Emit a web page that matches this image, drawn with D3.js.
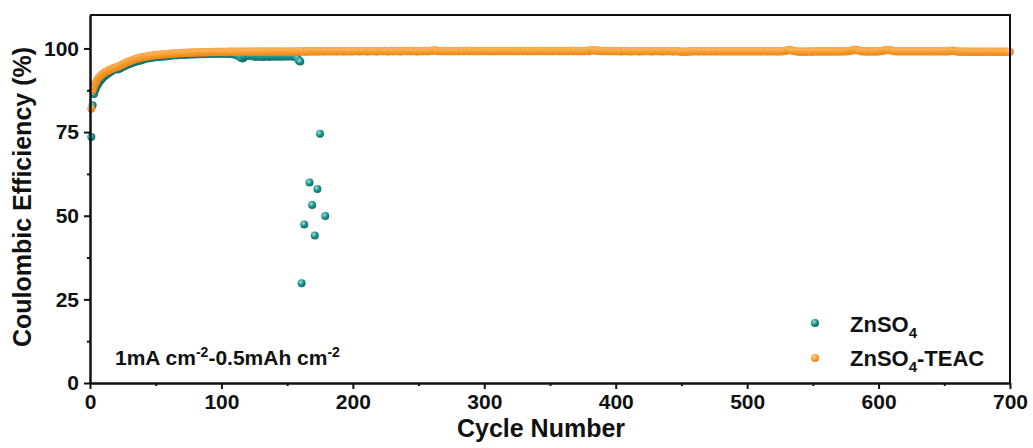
<!DOCTYPE html>
<html>
<head>
<meta charset="utf-8">
<script src="https://cdn.jsdelivr.net/npm/d3@7"></script>
<style>
  body { margin: 0; background: #fff; }
  text { font-family: "Liberation Sans", Arial, sans-serif; font-weight: bold; fill: #111; }
</style>
</head>
<body>
<div id="chart"></div>
<script>
// ZnSO4 coulombic efficiency, cycles 1..160 (index + 1)
const znso4 = [
  73.5,83.0,86.4,87.6,88.5,89.3,89.9,90.4,90.9,91.3,91.7,92.0,92.3,92.6,92.9,93.1,93.4,93.6,93.8,94.0,
  93.7,93.9,94.1,94.3,94.5,94.7,94.9,95.1,95.2,95.4,95.5,95.7,95.8,96.0,96.1,96.2,96.3,96.4,96.5,96.6,
  96.9,96.9,97.0,97.1,97.1,97.2,97.3,97.3,97.4,97.4,97.5,97.5,97.5,97.6,97.6,97.6,97.7,97.7,97.7,97.8,
  97.9,97.9,98.0,98.0,98.0,98.0,98.1,98.1,98.1,98.1,98.2,98.2,98.1,98.2,98.2,98.3,98.3,98.2,98.3,98.3,
  98.3,98.3,98.4,98.3,98.4,98.4,98.3,98.4,98.4,98.4,98.4,98.5,98.4,98.4,98.5,98.5,98.4,98.5,98.5,98.5,
  98.5,98.5,98.4,98.5,98.5,98.5,98.4,98.4,98.3,98.2,98.1,98.0,97.8,97.5,97.2,97.0,97.3,97.6,97.8,97.9,
  97.9,97.8,97.8,97.7,97.6,97.5,97.6,97.7,97.6,97.5,97.6,97.5,97.6,97.7,97.6,97.5,97.6,97.7,97.6,97.6,
  97.7,97.6,97.6,97.7,97.6,97.6,97.7,97.6,97.7,97.7,97.6,97.7,97.7,97.6,97.7,97.6,97.4,97.0,96.3,96.1
];
// ZnSO4 points after failure (short circuit)
const failCycles = [161, 163, 167, 169, 171, 173, 175, 179];
const failValues = [29.8, 47.4, 59.9, 53.2, 44.1, 58.0, 74.5, 49.9];

// ZnSO4-TEAC coulombic efficiency, cycles 1..700 (index + 1)
const teac = [
  82.0,87.5,88.6,89.5,90.3,91.0,91.4,91.8,92.2,92.5,92.8,93.0,93.2,93.4,93.6,93.8,94.0,94.1,94.3,94.4,
  94.5,94.7,94.9,95.1,95.3,95.5,95.7,95.9,96.0,96.2,96.3,96.5,96.6,96.8,96.9,97.0,97.1,97.2,97.3,97.4,
  97.5,97.5,97.6,97.7,97.7,97.8,97.9,97.9,98.0,98.0,98.1,98.1,98.1,98.2,98.2,98.2,98.3,98.3,98.3,98.4,
  98.4,98.4,98.5,98.5,98.5,98.5,98.6,98.6,98.6,98.6,98.7,98.7,98.7,98.7,98.7,98.8,98.8,98.7,98.8,98.8,
  98.8,98.8,98.9,98.8,98.9,98.9,98.8,98.9,98.9,98.9,98.9,99.0,98.9,98.9,99.0,99.0,98.9,99.0,99.0,99.0,
  99.0,99.0,98.9,99.0,99.1,99.0,99.0,99.1,99.0,98.9,99.0,99.1,99.0,99.0,99.1,99.0,99.1,99.0,99.0,99.1,
  99.0,99.1,99.1,99.0,99.0,99.1,99.0,99.1,99.1,99.0,99.1,99.0,99.1,99.1,99.0,99.1,99.1,99.0,99.1,99.1,
  99.1,99.0,99.1,99.1,99.0,99.1,99.1,99.1,99.0,99.1,99.1,99.0,99.1,99.1,99.1,99.0,99.1,99.2,99.1,99.1,
  99.1,99.2,99.0,99.1,99.2,99.1,99.1,99.2,99.1,99.2,99.1,99.1,99.2,99.1,99.2,99.2,99.1,99.2,99.1,99.2,
  99.2,99.1,99.2,99.2,99.1,99.2,99.2,99.1,99.2,99.2,99.2,99.1,99.2,99.2,99.1,99.2,99.2,99.2,99.1,99.2,
  99.2,99.3,99.2,99.2,99.1,99.2,99.3,99.2,99.2,99.2,99.1,99.2,99.2,99.3,99.2,99.2,99.2,99.1,99.2,99.2,
  99.3,99.2,99.2,99.3,99.2,99.2,99.1,99.2,99.3,99.2,99.2,99.2,99.3,99.2,99.2,99.1,99.2,99.2,99.3,99.2,
  99.2,99.3,99.2,99.2,99.2,99.3,99.2,99.2,99.1,99.2,99.3,99.2,99.2,99.2,99.3,99.2,99.2,99.2,99.3,99.3,
  99.4,99.5,99.4,99.3,99.2,99.3,99.2,99.2,99.3,99.2,99.2,99.3,99.2,99.2,99.2,99.3,99.2,99.2,99.3,99.2,
  99.2,99.2,99.3,99.2,99.2,99.3,99.3,99.2,99.2,99.3,99.2,99.2,99.3,99.2,99.2,99.2,99.3,99.2,99.3,99.2,
  99.2,99.3,99.2,99.2,99.3,99.2,99.2,99.3,99.2,99.3,99.2,99.2,99.3,99.2,99.2,99.3,99.2,99.2,99.3,99.2,
  99.3,99.2,99.2,99.3,99.2,99.2,99.3,99.3,99.2,99.2,99.3,99.2,99.2,99.3,99.2,99.2,99.3,99.2,99.2,99.3,
  99.2,99.2,99.3,99.2,99.3,99.2,99.2,99.3,99.2,99.2,99.3,99.2,99.2,99.3,99.2,99.3,99.2,99.2,99.3,99.2,
  99.2,99.3,99.2,99.2,99.3,99.3,99.2,99.2,99.3,99.2,99.2,99.3,99.2,99.2,99.3,99.2,99.3,99.3,99.2,99.4,
  99.4,99.5,99.4,99.5,99.4,99.3,99.4,99.3,99.2,99.3,99.2,99.2,99.3,99.2,99.2,99.3,99.2,99.2,99.3,99.2,
  99.2,99.3,99.2,99.1,99.2,99.2,99.3,99.2,99.2,99.2,99.1,99.2,99.2,99.2,99.3,99.2,99.2,99.1,99.2,99.2,
  99.2,99.2,99.3,99.2,99.2,99.2,99.1,99.2,99.2,99.2,99.2,99.3,99.2,99.2,99.1,99.2,99.2,99.2,99.2,99.3,
  99.2,99.2,99.2,99.1,99.2,99.2,99.2,99.1,99.1,99.0,99.1,99.0,99.1,99.0,99.1,99.1,99.2,99.1,99.2,99.2,
  99.2,99.2,99.1,99.2,99.2,99.2,99.1,99.2,99.2,99.2,99.2,99.1,99.2,99.2,99.2,99.1,99.2,99.2,99.2,99.1,
  99.2,99.2,99.1,99.2,99.2,99.2,99.1,99.2,99.2,99.1,99.2,99.2,99.2,99.1,99.2,99.2,99.1,99.2,99.2,99.2,
  99.1,99.2,99.2,99.1,99.2,99.2,99.2,99.1,99.2,99.2,99.1,99.2,99.2,99.2,99.1,99.2,99.2,99.2,99.1,99.2,
  99.2,99.1,99.2,99.2,99.1,99.2,99.2,99.2,99.3,99.4,99.5,99.6,99.5,99.4,99.3,99.2,99.2,99.1,99.1,99.0,
  99.1,99.0,99.1,99.1,99.0,99.1,99.1,99.1,99.0,99.1,99.1,99.1,99.2,99.1,99.1,99.1,99.2,99.1,99.1,99.2,
  99.1,99.1,99.2,99.1,99.1,99.2,99.1,99.2,99.1,99.1,99.2,99.1,99.2,99.2,99.1,99.2,99.2,99.3,99.4,99.5,
  99.6,99.5,99.6,99.5,99.4,99.3,99.2,99.2,99.1,99.2,99.1,99.1,99.2,99.1,99.2,99.1,99.1,99.2,99.1,99.2,
  99.2,99.2,99.3,99.4,99.5,99.6,99.5,99.6,99.5,99.4,99.3,99.2,99.2,99.2,99.1,99.2,99.2,99.1,99.2,99.2,
  99.2,99.1,99.2,99.2,99.1,99.2,99.2,99.2,99.1,99.2,99.2,99.1,99.2,99.2,99.2,99.1,99.2,99.2,99.1,99.2,
  99.2,99.2,99.1,99.2,99.2,99.1,99.2,99.2,99.2,99.1,99.2,99.2,99.1,99.2,99.3,99.4,99.3,99.2,99.2,99.1,
  99.1,99.1,99.0,99.1,99.0,99.1,99.0,99.1,99.0,99.0,99.1,99.0,99.0,99.1,99.0,99.0,99.1,99.0,99.0,99.1,
  99.0,99.0,99.1,99.0,99.0,99.0,99.1,99.0,99.0,99.0,99.0,99.1,99.0,99.0,99.0,99.0,99.1,99.0,99.0,99.0
];

const xTicks = [0, 100, 200, 300, 400, 500, 600, 700];
const xMinor = [50, 150, 250, 350, 450, 550, 650];
const yTicks = [0, 25, 50, 75, 100];
const yMinor = [12.5, 37.5, 62.5, 87.5];

// Set up dimensions and margins
const W = 1033, H = 448;
const margin = { top: 15, right: 23, bottom: 65, left: 90 };

const svg = d3.select("#chart").append("svg")
    .attr("width", W)
    .attr("height", H);

const x = d3.scaleLinear().domain([0, 700]).range([margin.left, W - margin.right]);
const y = d3.scaleLinear().domain([0, 110]).range([H - margin.bottom, margin.top]);

// Shaded ball markers
const defs = svg.append("defs");
function ball(id, light, base, edge) {
    const g = defs.append("radialGradient").attr("id", id)
        .attr("cx", "38%").attr("cy", "35%").attr("r", "70%");
    g.append("stop").attr("offset", "0%").attr("stop-color", light);
    g.append("stop").attr("offset", "55%").attr("stop-color", base);
    g.append("stop").attr("offset", "100%").attr("stop-color", edge);
}
ball("tealBall", "#9fe0da", "#17908c", "#0c6563");
ball("orangeBall", "#ffdcaa", "#f89a2a", "#e8830f");

const znPoints = znso4.map((v, i) => ({ c: i + 1, v }))
    .concat(failCycles.map((c, i) => ({ c, v: failValues[i] })));
const teacPoints = teac.map((v, i) => ({ c: i + 1, v }));

const plot = svg.append("g");
plot.selectAll("circle.zn").data(znPoints).enter().append("circle")
    .attr("class", "zn")
    .attr("cx", d => x(d.c))
    .attr("cy", d => y(d.v))
    .attr("r", 4)
    .attr("fill", "url(#tealBall)");
plot.selectAll("circle.teac").data(teacPoints).enter().append("circle")
    .attr("class", "teac")
    .attr("cx", d => x(d.c))
    .attr("cy", d => y(d.v))
    .attr("r", 4)
    .attr("fill", "url(#orangeBall)");

// Axes
svg.append("g")
    .attr("transform", `translate(0,${H - margin.bottom})`)
    .call(d3.axisBottom(x).tickValues(xTicks).tickSize(6).tickPadding(5).tickSizeOuter(0));
svg.append("g")
    .attr("transform", `translate(0,${H - margin.bottom})`)
    .call(d3.axisBottom(x).tickValues(xMinor).tickSize(3).tickFormat("").tickSizeOuter(0));
svg.append("g")
    .attr("transform", `translate(${margin.left},0)`)
    .call(d3.axisLeft(y).tickValues(yTicks).tickSize(6).tickPadding(5).tickSizeOuter(0));
svg.append("g")
    .attr("transform", `translate(${margin.left},0)`)
    .call(d3.axisLeft(y).tickValues(yMinor).tickSize(3).tickFormat("").tickSizeOuter(0));

svg.selectAll(".domain, .tick line").attr("stroke", "#111").attr("stroke-width", 2);
svg.selectAll(".tick text")
    .attr("font-size", 21)
    .style("font-family", "'Liberation Sans', Arial, sans-serif")
    .style("font-weight", "bold")
    .attr("fill", "#111");

// Frame (top and right)
svg.append("path")
    .attr("d", `M${x(0)},${y(110)}H${x(700)}V${y(0)}`)
    .attr("fill", "none")
    .attr("stroke", "#111")
    .attr("stroke-width", 2);

// Axis titles
svg.append("text")
    .attr("x", 541).attr("y", 437)
    .attr("text-anchor", "middle")
    .attr("font-size", 25)
    .text("Cycle Number");
svg.append("text")
    .attr("transform", "translate(31,197) rotate(-90)")
    .attr("text-anchor", "middle")
    .attr("font-size", 25)
    .text("Coulombic Efficiency (%)");

// Annotation
const note = svg.append("text").attr("x", 115).attr("y", 365).attr("font-size", 21);
note.append("tspan").text("1mA cm");
note.append("tspan").attr("dy", -8).attr("font-size", 14).text("-2");
note.append("tspan").attr("dy", 8).text("-0.5mAh cm");
note.append("tspan").attr("dy", -8).attr("font-size", 14).text("-2");

// Legend
const legend = svg.append("g");
legend.append("circle").attr("cx", 815).attr("cy", 323).attr("r", 4).attr("fill", "url(#tealBall)");
legend.append("circle").attr("cx", 815).attr("cy", 358).attr("r", 4).attr("fill", "url(#orangeBall)");
const l1 = legend.append("text").attr("x", 850).attr("y", 332).attr("font-size", 22);
l1.append("tspan").text("ZnSO");
l1.append("tspan").attr("dy", 6).attr("font-size", 15).text("4");
const l2 = legend.append("text").attr("x", 850).attr("y", 366).attr("font-size", 22);
l2.append("tspan").text("ZnSO");
l2.append("tspan").attr("dy", 6).attr("font-size", 15).text("4");
l2.append("tspan").attr("dy", -6).text("-TEAC");
</script>
</body>
</html>
